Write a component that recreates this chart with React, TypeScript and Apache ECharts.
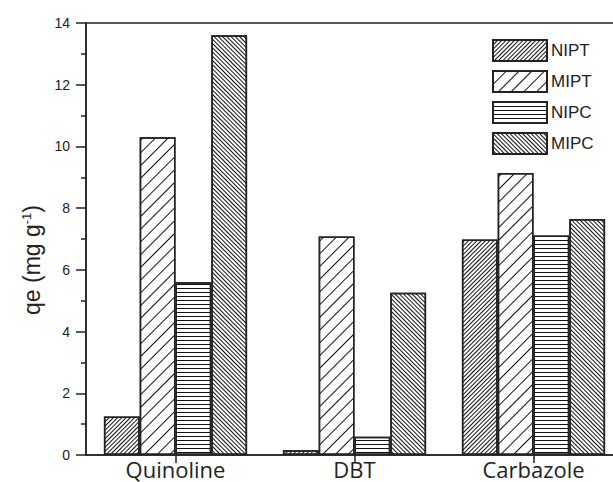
import React, { useEffect, useRef } from "react";
import * as echarts from "echarts";

const categories = ["Quinoline", "DBT", "Carbazole"];
const seriesNames = ["NIPT", "MIPT", "NIPC", "MIPC"];
const niptValues = [1.25, 0.15, 6.98];
const miptValues = [10.3, 7.08, 9.14];
const nipcValues = [5.6, 0.59, 7.11];
const mipcValues = [13.6, 5.26, 7.65];
const yTicks = { min: 0, max: 14, interval: 2 };

const decals = [
  { symbol: "rect", symbolSize: 1, color: "#111", backgroundColor: "#fff", dashArrayX: [1, 0], dashArrayY: [1, 2], rotation: -Math.PI / 4 },
  { symbol: "rect", symbolSize: 1, color: "#111", backgroundColor: "#fff", dashArrayX: [1, 0], dashArrayY: [1, 7.5], rotation: -Math.PI / 4 },
  { symbol: "rect", symbolSize: 1, color: "#111", backgroundColor: "#fff", dashArrayX: [1, 0], dashArrayY: [1, 2.5], rotation: 0 },
  { symbol: "rect", symbolSize: 1, color: "#111", backgroundColor: "#fff", dashArrayX: [1, 0], dashArrayY: [1, 2], rotation: Math.PI / 4 },
];

export default function App() {
  const ref = useRef<HTMLDivElement>(null);
  useEffect(() => {
    document.body.style.margin = "0";
    const chart = echarts.init(ref.current!, null, { renderer: "svg" });
    const values = [niptValues, miptValues, nipcValues, mipcValues];
    chart.setOption({
      animation: false,
      backgroundColor: "#fff",
      grid: {
        left: 86,
        top: 23,
        bottom: 27,
        right: -10,
        outerBoundsMode: "none",
        containLabel: false,
        show: true,
        borderColor: "#222",
        borderWidth: 1.5,
        backgroundColor: "transparent",
      },
      legend: {
        orient: "vertical",
        left: 492,
        top: 39,
        padding: 0,
        itemWidth: 54,
        itemHeight: 21,
        itemGap: 8,
        icon: "rect",
        data: seriesNames,
        textStyle: { fontFamily: "Liberation Sans, Arial", fontSize: 17, color: "#222", padding: [0, 0, 0, -1] },
      },
      xAxis: {
        type: "category",
        data: categories,
        axisLine: { lineStyle: { color: "#222", width: 1.5 } },
        axisTick: { show: true, alignWithLabel: true, length: 8, lineStyle: { color: "#222", width: 1.5 } },
        axisLabel: { fontFamily: "Open Sans", fontSize: 22, color: "#222", margin: 3 },
        splitLine: { show: false },
      },
      yAxis: {
        type: "value",
        min: yTicks.min,
        max: yTicks.max,
        interval: yTicks.interval,
        axisLine: { show: true, lineStyle: { color: "#222", width: 1.5 } },
        axisTick: { show: true, length: 10, lineStyle: { color: "#222", width: 1.5 } },
        minorTick: { show: true, splitNumber: 2, length: 5, lineStyle: { color: "#222", width: 1.5 } },
        axisLabel: { fontFamily: "Liberation Sans, Arial", fontSize: 14, color: "#222", margin: 16 },
        splitLine: { show: false },
      },
      graphic: [
        {
          type: "text",
          x: 32,
          y: 260,
          rotation: Math.PI / 2,
          style: {
            text: "qe (mg g{sup|-1})",
            fontFamily: "Liberation Sans, Arial",
            fontSize: 23,
            fill: "#222",
            align: "center",
            verticalAlign: "middle",
            rich: {
              sup: { fontSize: 13, fontFamily: "Liberation Sans, Arial", fill: "#222", verticalAlign: "top", padding: [0, 0, 12, 0] },
            },
          },
        },
      ],
      series: seriesNames.map((name, i) => ({
        name,
        type: "bar",
        data: values[i],
        barGap: "0%",
        barCategoryGap: "20%",
        itemStyle: { color: "#fff", borderColor: "#222", borderWidth: 1.5, decal: decals[i] },
      })),
    });
    return () => chart.dispose();
  }, []);
  return <div ref={ref} style={{ position: "absolute", left: 0, top: 0, width: 613, height: 482 }} />;
}
